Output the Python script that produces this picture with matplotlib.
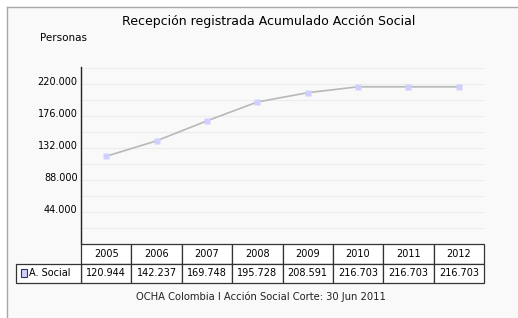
import matplotlib
matplotlib.use('Agg')
import matplotlib.pyplot as plt
import matplotlib.transforms as mtransforms
from matplotlib.patches import Rectangle
from matplotlib.lines import Line2D

years = ['2005', '2006', '2007', '2008', '2009', '2010', '2011', '2012']
values = [120944, 142237, 169748, 195728, 208591, 216703, 216703, 216703]
value_labels = ['120.944', '142.237', '169.748', '195.728', '208.591',
                '216.703', '216.703', '216.703']
ytick_values = [44000, 88000, 132000, 176000, 220000]
ytick_labels = ['44.000', '88.000', '132.000', '176.000', '220.000']
series_name = 'A. Social'

W, H = 518, 318
fig = plt.figure(figsize=(W / 100, H / 100), dpi=100)
fig.patch.set_facecolor('white')

# panel background with the grey frame on top and left
fig.add_artist(Rectangle((7 / W, 0), 1, 1 - 7 / H, transform=fig.transFigure,
                         facecolor='#f9f9f9', edgecolor='none', zorder=-10))
fig.add_artist(Line2D([7 / W, 7 / W], [0, 1 - 7 / H], transform=fig.transFigure,
                      color='#a8a8a8', lw=1, zorder=-9))
fig.add_artist(Line2D([7 / W, 1], [1 - 7 / H, 1 - 7 / H], transform=fig.transFigure,
                      color='#a8a8a8', lw=1, zorder=-9))

ax_l, ax_r, ax_t, ax_b = 81, 484, 67, 244
ax = fig.add_axes([ax_l / W, 1 - ax_b / H, (ax_r - ax_l) / W, (ax_b - ax_t) / H])
ax.set_facecolor('none')

x = list(range(len(years)))
ax.plot(x, values, color='#b8b8b8', lw=1.2, zorder=3)
ax.plot(x, values, ls='none', marker='s', ms=3.8, color='#d0d0ff', mec='none', zorder=4)

ax.set_xlim(-0.5, len(years) - 0.5)
ax.set_ylim(0, 244000)
for v in range(22000, 242001, 22000):
    ax.axhline(v, color='#ececec', lw=0.8, zorder=1)

ax.set_xticks([])
ax.set_yticks(ytick_values)
ax.set_yticklabels(ytick_labels, fontsize=7)
ax.tick_params(axis='y', length=0, pad=2.5)
offset = mtransforms.ScaledTranslation(0, 3 / 100, fig.dpi_scale_trans)
for lab in ax.get_yticklabels():
    lab.set_transform(lab.get_transform() + offset)

for s in ['top', 'right', 'bottom']:
    ax.spines[s].set_visible(False)
ax.spines['left'].set_color('#222222')
ax.spines['left'].set_linewidth(1)

# data table under the plot
trans = mtransforms.blended_transform_factory(ax.transData, ax.transAxes)
ax_h = ax_b - ax_t
row_h = 19.5 / ax_h
label_w = (ax_l - 16) / ((ax_r - ax_l) / len(years))
cell_kw = dict(transform=trans, clip_on=False, facecolor='white',
               edgecolor='#333333', lw=0.9, zorder=5)
for i, (yr, lab) in enumerate(zip(years, value_labels)):
    ax.add_patch(Rectangle((i - 0.5, -row_h), 1, row_h, **cell_kw))
    ax.add_patch(Rectangle((i - 0.5, -2 * row_h), 1, row_h, **cell_kw))
    ax.text(i, -row_h / 2, yr, transform=trans, ha='center', va='center',
            fontsize=7, zorder=6)
    ax.text(i, -1.5 * row_h, lab, transform=trans, ha='center', va='center',
            fontsize=7, zorder=6)
ax.add_patch(Rectangle((-0.5 - label_w, -2 * row_h), label_w, row_h, **cell_kw))
ax.add_patch(Rectangle((-0.5 - label_w + 0.1, -1.5 * row_h - 0.022), 0.11, 0.044,
                       transform=trans, clip_on=False, facecolor='#d0d0ff',
                       edgecolor='#333366', lw=0.8, zorder=6))
ax.text(-0.5 - label_w + 0.26, -1.5 * row_h, series_name, transform=trans,
        ha='left', va='center', fontsize=7, zorder=6)

fig.text(269 / W, 1 - 21 / H, 'Recepción registrada Acumulado Acción Social',
         ha='center', va='center', fontsize=9)
fig.text(40 / W, 1 - 38 / H, 'Personas', ha='left', va='center', fontsize=7.5)
fig.text(261 / W, 1 - 297 / H, 'OCHA Colombia l Acción Social Corte: 30 Jun 2011',
         ha='center', va='center', fontsize=7.2, color='#222222')

plt.savefig('out.png', dpi=100)
